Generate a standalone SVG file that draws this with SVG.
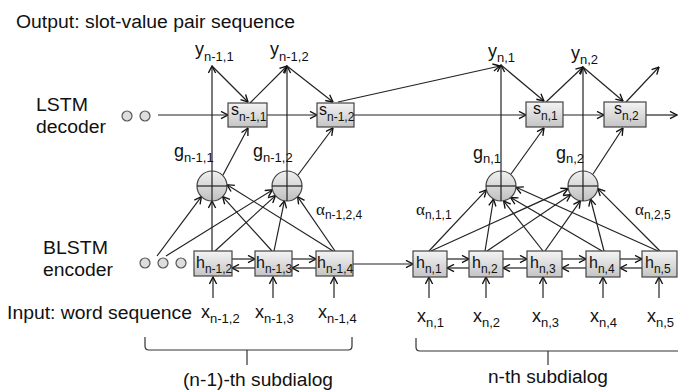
<svg xmlns="http://www.w3.org/2000/svg" width="678" height="392" viewBox="0 0 678 392">
<defs>
<linearGradient id="bx" x1="0" y1="0" x2="0" y2="1">
<stop offset="0" stop-color="#f4f4f4"/><stop offset="1" stop-color="#c4c4c4"/>
</linearGradient>
<linearGradient id="cg" x1="0" y1="0" x2="0" y2="1">
<stop offset="0" stop-color="#f0f0f0"/><stop offset="1" stop-color="#c0c0c0"/>
</linearGradient>
<marker id="a" viewBox="0 0 10 10" refX="9.3" refY="5" markerWidth="9" markerHeight="9" orient="auto" markerUnits="userSpaceOnUse">
<path d="M1.5,1 L9.3,5 L1.5,9" fill="none" stroke="#111" stroke-width="1.5"/>
</marker>
<style>
text{font-family:"Liberation Sans",Arial,sans-serif;fill:#111}
.big{font-size:18px}
.v{font-size:18px}
.sub{font-size:13px}
.bv{font-size:16px}
.bs{font-size:12px}
.al{font-family:"Liberation Serif","DejaVu Serif",serif;font-size:17px}
.box{fill:url(#bx);stroke:#444;stroke-width:1.2}
.cir{fill:url(#cg);stroke:#444;stroke-width:1.2}
.dot{fill:#ddd;stroke:#555;stroke-width:1.2}
.ln{stroke:#222;stroke-width:1.2;fill:none}
.ar{stroke:#222;stroke-width:1.2;fill:none;marker-end:url(#a)}
.br{stroke:#333;stroke-width:1.2;fill:none}
</style>
</defs>

<g id="labels">
<text class="big" x="16" y="28" textLength="279" lengthAdjust="spacingAndGlyphs">Output: slot-value pair sequence</text>
<text class="big" x="36" y="111" textLength="52" lengthAdjust="spacingAndGlyphs">LSTM</text>
<text class="big" x="36" y="133" textLength="70" lengthAdjust="spacingAndGlyphs">decoder</text>
<text class="big" x="43" y="254" textLength="65" lengthAdjust="spacingAndGlyphs">BLSTM</text>
<text class="big" x="43" y="276" textLength="70" lengthAdjust="spacingAndGlyphs">encoder</text>
<text class="big" x="7" y="319" textLength="185" lengthAdjust="spacingAndGlyphs">Input: word sequence</text>
<text class="big" x="183" y="386" textLength="150" lengthAdjust="spacingAndGlyphs">(n-1)-th subdialog</text>
<text class="big" x="488" y="383" textLength="120" lengthAdjust="spacingAndGlyphs">n-th subdialog</text>
</g>

<g id="connectors">
<!-- decoder chain -->
<line class="ar" x1="158" y1="115" x2="228" y2="115"/>
<line class="ar" x1="267" y1="115" x2="317" y2="115"/>
<line class="ar" x1="354" y1="115" x2="526" y2="115"/>
<line class="ar" x1="563" y1="115" x2="604" y2="115"/>
<line class="ar" x1="646" y1="115" x2="677" y2="115"/>
<!-- vertical output lines -->
<line class="ar" x1="212" y1="171" x2="212" y2="66"/>
<line class="ar" x1="287" y1="171" x2="287" y2="66"/>
<line class="ar" x1="501" y1="171" x2="501" y2="65"/>
<line class="ar" x1="583" y1="171" x2="583" y2="67"/>
<!-- y <-> s -->
<line class="ar" x1="212" y1="66" x2="248" y2="102"/>
<line class="ar" x1="250" y1="103" x2="287" y2="66"/>
<line class="ar" x1="287" y1="66" x2="333" y2="102"/>
<line class="ar" x1="338" y1="102" x2="500" y2="66"/>
<line class="ar" x1="501" y1="65" x2="544" y2="101"/>
<line class="ar" x1="546" y1="102" x2="583" y2="67"/>
<line class="ar" x1="583" y1="67" x2="623" y2="101"/>
<line class="ar" x1="626" y1="102" x2="659" y2="67"/>
<!-- g -> s -->
<line class="ar" x1="223" y1="175" x2="248" y2="128"/>
<line class="ar" x1="298" y1="175" x2="333" y2="128"/>
<line class="ar" x1="511" y1="174" x2="544" y2="128"/>
<line class="ar" x1="593" y1="174" x2="623" y2="128"/>
<!-- attention n-1 -->
<line class="ar" x1="157" y1="256" x2="201.4" y2="196.6"/>
<line class="ar" x1="166" y1="256" x2="272.5" y2="189.9"/>
<line class="ar" x1="212" y1="251" x2="212" y2="201"/>
<line class="ar" x1="215" y1="251" x2="275.5" y2="195.6"/>
<line class="ar" x1="272" y1="251" x2="222.6" y2="196.6"/>
<line class="ar" x1="274" y1="251" x2="284.4" y2="200.8"/>
<line class="ar" x1="333" y1="251" x2="227" y2="184.7"/>
<line class="ar" x1="335" y1="251" x2="297.6" y2="196.6"/>
<!-- attention n -->
<line class="ar" x1="429" y1="251" x2="486.5" y2="189.9"/>
<line class="ar" x1="431" y1="251" x2="568.2" y2="188.6"/>
<line class="ar" x1="485" y1="251" x2="493.5" y2="199"/>
<line class="ar" x1="487" y1="251" x2="570.7" y2="194.6"/>
<line class="ar" x1="543" y1="251" x2="503.6" y2="200.8"/>
<line class="ar" x1="545" y1="251" x2="580.4" y2="200.8"/>
<line class="ar" x1="602" y1="251" x2="510.6" y2="197.5"/>
<line class="ar" x1="604" y1="251" x2="590.5" y2="199"/>
<line class="ar" x1="658" y1="251" x2="516" y2="187.3"/>
<line class="ar" x1="660" y1="251" x2="597.8" y2="188.6"/>
<!-- encoder forward/backward -->
<line class="ar" x1="232" y1="259" x2="255" y2="259"/>
<line class="ar" x1="255" y1="268" x2="232" y2="268"/>
<line class="ar" x1="292" y1="259" x2="316" y2="259"/>
<line class="ar" x1="316" y1="268" x2="292" y2="268"/>
<line class="ar" x1="353" y1="264" x2="413" y2="264"/>
<line class="ar" x1="447" y1="259" x2="469" y2="259"/>
<line class="ar" x1="469" y1="268" x2="447" y2="268"/>
<line class="ar" x1="503" y1="259" x2="527" y2="259"/>
<line class="ar" x1="527" y1="268" x2="503" y2="268"/>
<line class="ar" x1="562" y1="259" x2="586" y2="259"/>
<line class="ar" x1="586" y1="268" x2="562" y2="268"/>
<line class="ar" x1="620" y1="259" x2="642" y2="259"/>
<line class="ar" x1="642" y1="268" x2="620" y2="268"/>
<!-- inputs -->
<line class="ar" x1="213" y1="298" x2="213" y2="277"/>
<line class="ar" x1="273" y1="298" x2="273" y2="277"/>
<line class="ar" x1="334" y1="298" x2="334" y2="277"/>
<line class="ar" x1="429" y1="298" x2="429" y2="277"/>
<line class="ar" x1="486" y1="298" x2="486" y2="277"/>
<line class="ar" x1="543" y1="298" x2="543" y2="277"/>
<line class="ar" x1="603" y1="298" x2="603" y2="277"/>
<line class="ar" x1="659" y1="298" x2="659" y2="277"/>
</g>

<g id="dots-decoder">
<circle class="dot" cx="127" cy="116" r="5"/>
<circle class="dot" cx="145" cy="116" r="5"/>
</g>
<g id="dots-encoder">
<circle class="dot" cx="145" cy="263" r="5"/>
<circle class="dot" cx="163" cy="263" r="5"/>
<circle class="dot" cx="181" cy="263" r="5"/>
</g>

<g id="s_n-1_1"><rect class="box" x="228" y="103" width="39" height="24"/><text x="231" y="115"><tspan class="bv">s</tspan><tspan class="bs" dy="6">n-1,1</tspan></text></g>
<g id="s_n-1_2"><rect class="box" x="317" y="103" width="37" height="24"/><text x="319" y="115"><tspan class="bv">s</tspan><tspan class="bs" dy="6">n-1,2</tspan></text></g>
<g id="s_n_1"><rect class="box" x="526" y="102" width="37" height="25"/><text x="533" y="114"><tspan class="bv">s</tspan><tspan class="bs" dy="6">n,1</tspan></text></g>
<g id="s_n_2"><rect class="box" x="604" y="102" width="42" height="25"/><text x="614" y="114"><tspan class="bv">s</tspan><tspan class="bs" dy="6">n,2</tspan></text></g>

<g id="g_n-1_1"><circle class="cir" cx="212" cy="186" r="15"/><line class="ln" x1="197" y1="186" x2="227" y2="186"/><line class="ln" x1="212" y1="171" x2="212" y2="201"/></g>
<g id="g_n-1_2"><circle class="cir" cx="287" cy="186" r="15"/><line class="ln" x1="272" y1="186" x2="302" y2="186"/><line class="ln" x1="287" y1="171" x2="287" y2="201"/></g>
<g id="g_n_1"><circle class="cir" cx="501" cy="186" r="15"/><line class="ln" x1="486" y1="186" x2="516" y2="186"/><line class="ln" x1="501" y1="171" x2="501" y2="201"/></g>
<g id="g_n_2"><circle class="cir" cx="583" cy="186" r="15"/><line class="ln" x1="568" y1="186" x2="598" y2="186"/><line class="ln" x1="583" y1="171" x2="583" y2="201"/></g>

<g id="h_n-1_2"><rect class="box" x="194" y="251" width="38" height="25"/><text x="196" y="268"><tspan class="bv">h</tspan><tspan class="bs" dy="5">n-1,2</tspan></text></g>
<g id="h_n-1_3"><rect class="box" x="255" y="251" width="37" height="25"/><text x="256" y="268"><tspan class="bv">h</tspan><tspan class="bs" dy="5">n-1,3</tspan></text></g>
<g id="h_n-1_4"><rect class="box" x="316" y="251" width="37" height="25"/><text x="317" y="268"><tspan class="bv">h</tspan><tspan class="bs" dy="5">n-1,4</tspan></text></g>
<g id="h_n_1"><rect class="box" x="413" y="251" width="34" height="26"/><text x="416" y="268"><tspan class="bv">h</tspan><tspan class="bs" dy="5">n,1</tspan></text></g>
<g id="h_n_2"><rect class="box" x="469" y="251" width="34" height="26"/><text x="472" y="268"><tspan class="bv">h</tspan><tspan class="bs" dy="5">n,2</tspan></text></g>
<g id="h_n_3"><rect class="box" x="527" y="251" width="35" height="26"/><text x="530" y="268"><tspan class="bv">h</tspan><tspan class="bs" dy="5">n,3</tspan></text></g>
<g id="h_n_4"><rect class="box" x="586" y="251" width="34" height="26"/><text x="589" y="268"><tspan class="bv">h</tspan><tspan class="bs" dy="5">n,4</tspan></text></g>
<g id="h_n_5"><rect class="box" x="642" y="251" width="35" height="26"/><text x="645" y="268"><tspan class="bv">h</tspan><tspan class="bs" dy="5">n,5</tspan></text></g>

<g id="var-labels">
<text x="195" y="55"><tspan class="v">y</tspan><tspan class="sub" dy="6">n-1,1</tspan></text>
<text x="270" y="55"><tspan class="v">y</tspan><tspan class="sub" dy="6">n-1,2</tspan></text>
<text x="488" y="57"><tspan class="v">y</tspan><tspan class="sub" dy="5">n,1</tspan></text>
<text x="571" y="59"><tspan class="v">y</tspan><tspan class="sub" dy="5">n,2</tspan></text>
<text x="174" y="157"><tspan class="v">g</tspan><tspan class="sub" dy="5">n-1,1</tspan></text>
<text x="253" y="157"><tspan class="v">g</tspan><tspan class="sub" dy="5">n-1,2</tspan></text>
<text x="473" y="159"><tspan class="v">g</tspan><tspan class="sub" dy="4">n,1</tspan></text>
<text x="556" y="159"><tspan class="v">g</tspan><tspan class="sub" dy="4">n,2</tspan></text>
<text x="316" y="215"><tspan class="al">α</tspan><tspan class="bs" dy="4">n-1,2,4</tspan></text>
<text x="416" y="215"><tspan class="al">α</tspan><tspan class="bs" dy="4">n,1,1</tspan></text>
<text x="635" y="215"><tspan class="al">α</tspan><tspan class="bs" dy="4">n,2,5</tspan></text>
<text x="201" y="318"><tspan class="v">x</tspan><tspan class="sub" dy="5">n-1,2</tspan></text>
<text x="255" y="318"><tspan class="v">x</tspan><tspan class="sub" dy="5">n-1,3</tspan></text>
<text x="318" y="318"><tspan class="v">x</tspan><tspan class="sub" dy="5">n-1,4</tspan></text>
<text x="417" y="322"><tspan class="v">x</tspan><tspan class="sub" dy="5">n,1</tspan></text>
<text x="473" y="322"><tspan class="v">x</tspan><tspan class="sub" dy="5">n,2</tspan></text>
<text x="532" y="322"><tspan class="v">x</tspan><tspan class="sub" dy="5">n,3</tspan></text>
<text x="590" y="322"><tspan class="v">x</tspan><tspan class="sub" dy="5">n,4</tspan></text>
<text x="647" y="322"><tspan class="v">x</tspan><tspan class="sub" dy="5">n,5</tspan></text>
</g>

<g id="braces">
<path class="br" d="M145,337 L145,346 Q145,350 149,350 L348,350 Q352,350 352,346 L352,337 M247,350 L247,365"/>
<path class="br" d="M416,338 L416,347 Q416,351 420,351 L680,351 M548,351 L548,365"/>
</g>
</svg>
